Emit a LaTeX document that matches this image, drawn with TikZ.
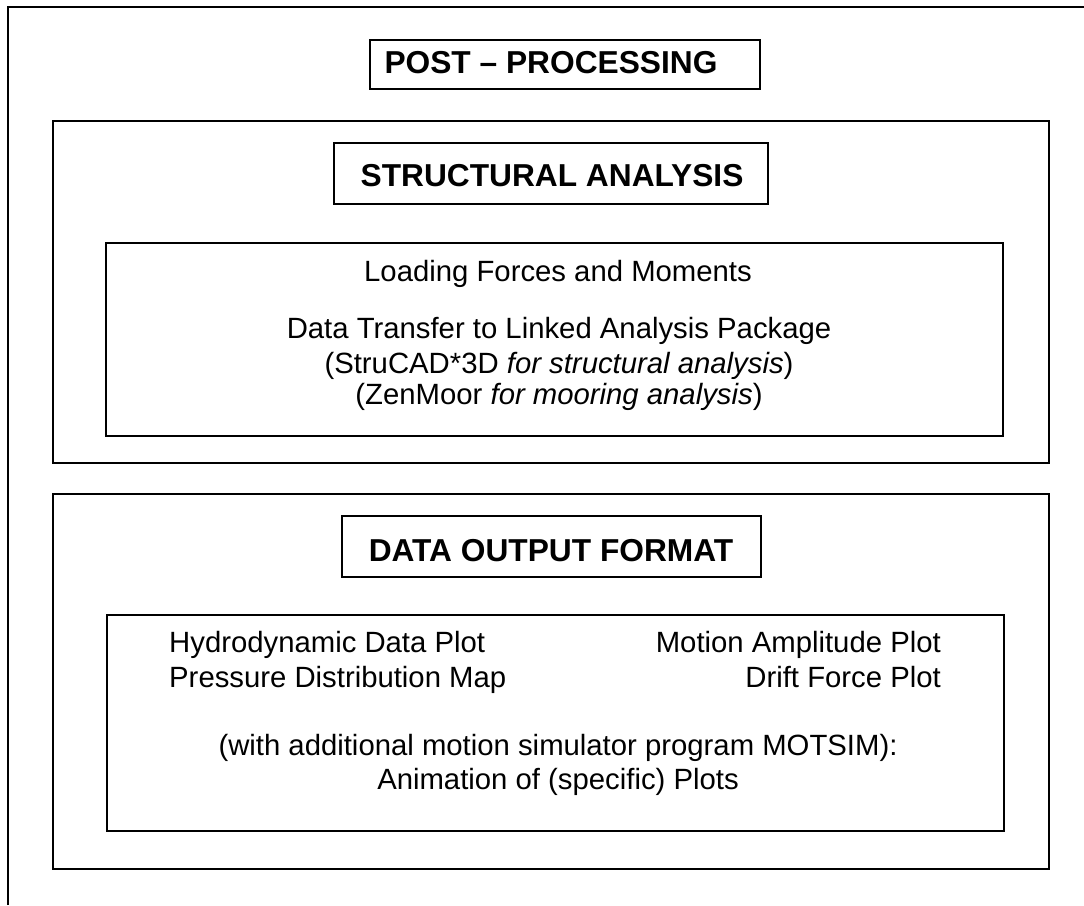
\documentclass[tikz,border=0pt]{standalone}
\usepackage{fontspec}
\setmainfont{Liberation Sans}
\begin{document}
\begin{tikzpicture}[x=1pt,y=-1pt,
  frame/.style={draw=black,line width=1.5pt},
  heading/.style={inner sep=0pt,anchor=base,font=\fontsize{31.7}{36}\selectfont\bfseries},
  body/.style={inner sep=0pt,anchor=base,font=\fontsize{29.3}{33}\selectfont},
  bodyl/.style={body,anchor=base west},
  bodyr/.style={body,anchor=base east}]
\useasboundingbox (0,0) rectangle (1084,905);

% page frame: only the top and left edges
\draw[frame] (8,905) -- (8,7) -- (1084,7);

% title
\draw[frame] (370,40) rectangle (760,89);
\node[heading] (title) at (551,73) {POST – PROCESSING};

% structural analysis section
\draw[frame] (53,121) rectangle (1049,463);
\draw[frame] (334,143) rectangle (768,204);
\node[heading] (sa) at (552,186) {STRUCTURAL ANALYSIS};
\draw[frame] (106,243) rectangle (1003,436);
\node[body] (load) at (558,281) {Loading Forces and Moments};
\node[body] (xfer) at (559,338) {Data Transfer to Linked Analysis Package};
\node[body] (struc) at (559,373) {(StruCAD*3D \textit{for structural analysis})};
\node[body] (zen) at (559,404) {(ZenMoor \textit{for mooring analysis})};

% data output section
\draw[frame] (53,494) rectangle (1049,869);
\draw[frame] (342,516) rectangle (761,577);
\node[heading] (dof) at (551,561) {DATA OUTPUT FORMAT};
\draw[frame] (107,615) rectangle (1004,831);
\node[bodyl] (hydro) at (169,652) {Hydrodynamic Data Plot};
\node[bodyl] (press) at (169,687) {Pressure Distribution Map};
\node[bodyr] (motion) at (941,652) {Motion Amplitude Plot};
\node[bodyr] (drift) at (941,687) {Drift Force Plot};
\node[body] (motsim) at (558,755) {(with additional motion simulator program MOTSIM):};
\node[body] (anim) at (558,789) {Animation of (specific) Plots};
\end{tikzpicture}
\end{document}
